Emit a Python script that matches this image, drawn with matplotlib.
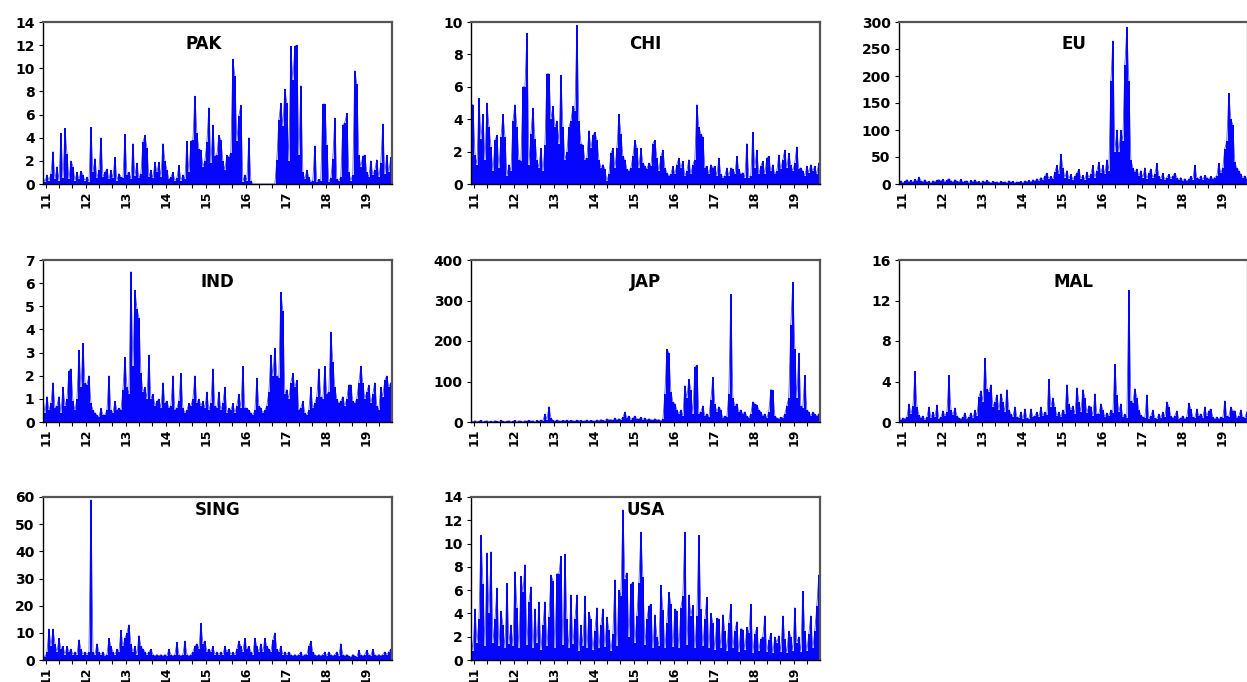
import numpy as np
import matplotlib
matplotlib.use("Agg")
import matplotlib.pyplot as plt
from matplotlib.ticker import MultipleLocator

# spike heights, one value every ~18 days from Dec 2010
pak = [0.6, 0.2, 0.8, 0.3, 0.9, 2.8, 0.4, 1.5, 0.3, 4.4, 0.5, 4.8, 2.6, 0.4, 2.0, 1.5, 0.3, 1.0, 0.4, 1.1,
       0.8, 0.3, 0.6, 0.2, 4.9, 1.0, 2.2, 0.5, 1.2, 4.0, 0.6, 1.0, 1.3, 0.4, 1.2, 0.5, 2.3, 0.3, 0.9, 0.6,
       0.5, 4.3, 0.8, 1.0, 0.4, 3.5, 0.7, 1.8, 0.5, 0.9, 3.6, 4.2, 3.1, 0.6, 1.2, 0.5, 1.9, 1.0, 1.9, 0.6,
       3.5, 2.0, 1.2, 0.4, 0.6, 1.0, 0.3, 0.5, 1.6, 0.3, 0.8, 0.4, 3.7, 1.0, 3.7, 3.8, 7.6, 4.4, 3.0, 2.9,
       1.5, 2.0, 3.6, 6.6, 1.8, 5.1, 2.4, 2.5, 4.2, 3.8, 2.0, 1.2, 2.5, 2.3, 2.7, 10.8, 9.3, 3.7, 5.9, 6.8,
       0.2, 0.8, 0.3, 4.0, 0.3, 0, 0, 0, 0, 0, 0, 0, 0, 0, 0, 0, 0, 2.1, 5.5, 7.0,
       5.0, 8.2, 7.0, 2.0, 11.9, 9.0, 11.9, 12.0, 2.5, 8.5, 1.0, 0.4, 1.2, 0.6, 0.2, 0.3, 3.3, 0.2, 0.4, 0.3,
       6.9, 6.9, 3.4, 0.2, 0.5, 2.2, 5.7, 0.4, 0.3, 0.6, 5.1, 5.3, 6.1, 1.0, 0.3, 0.8, 9.8, 8.6, 2.5, 1.5,
       2.4, 2.5, 1.0, 0.6, 2.0, 0.8, 1.2, 2.1, 0.6, 1.8, 5.2, 0.9, 2.5, 1.0, 2.3]

chi = [4.9, 4.9, 1.8, 1.2, 5.3, 2.8, 4.3, 1.5, 5.0, 3.5, 2.3, 0.8, 2.7, 3.0, 1.0, 2.9, 4.3, 2.9, 0.5, 1.2,
       0.8, 3.9, 4.9, 3.5, 1.5, 1.4, 6.0, 6.0, 9.3, 1.2, 3.1, 4.7, 2.8, 1.5, 1.0, 2.2, 0.8, 2.4, 6.8, 6.8,
       4.0, 4.8, 3.5, 3.9, 2.5, 6.7, 3.5, 1.5, 2.0, 3.5, 3.9, 4.8, 4.5, 9.8, 3.9, 2.5, 2.4, 1.5, 1.6, 3.3,
       2.2, 3.0, 3.2, 2.7, 1.5, 1.0, 1.2, 0.9, 0.2, 0.6, 1.9, 2.2, 1.0, 2.2, 4.3, 3.1, 1.7, 1.5, 0.9, 0.8,
       1.0, 1.7, 2.7, 2.2, 1.0, 2.2, 1.3, 1.1, 0.9, 1.3, 1.1, 2.5, 2.7, 1.6, 0.8, 1.7, 2.1, 1.0, 0.7, 0.5,
       0.6, 1.1, 0.6, 1.2, 1.6, 1.0, 1.4, 0.5, 0.8, 1.5, 0.6, 1.2, 1.5, 4.9, 3.5, 3.1, 2.9, 1.0, 1.1, 0.6,
       1.2, 1.0, 1.1, 0.5, 1.6, 0.6, 0.4, 0.5, 1.0, 0.5, 1.0, 0.9, 0.6, 1.7, 0.9, 0.6, 0.7, 0.4, 2.5, 0.4,
       0.5, 3.2, 1.0, 2.1, 0.6, 1.1, 1.4, 0.6, 1.6, 1.7, 0.8, 1.2, 0.6, 0.8, 1.8, 0.9, 1.5, 2.1, 1.0, 1.9,
       1.2, 0.8, 1.3, 2.3, 0.9, 1.0, 0.8, 0.5, 1.1, 0.7, 1.2, 0.8, 1.1, 0.6, 1.3]

eu = [3, 6, 2, 5, 8, 4, 7, 3, 9, 5, 13, 6, 4, 8, 3, 5, 2, 6, 4, 7,
      8, 5, 9, 4, 7, 10, 6, 3, 8, 5, 4, 9, 3, 5, 6, 2, 7, 4, 8, 3,
      5, 2, 6, 3, 7, 4, 2, 5, 3, 4, 2, 5, 3, 4, 2, 6, 3, 5, 2, 4,
      3, 5, 2, 6, 4, 7, 3, 8, 5, 10, 6, 12, 8, 15, 20, 10, 14, 9, 22, 35,
      18, 55, 30, 12, 25, 10, 18, 8, 15, 20, 27, 10, 16, 8, 22, 12, 18, 35, 12, 25,
      40, 20, 35, 18, 45, 25, 190, 265, 60, 100, 60, 100, 80, 220, 290, 190, 45, 30, 22, 28,
      15, 25, 12, 30, 10, 20, 28, 12, 18, 38, 15, 10, 20, 8, 12, 18, 10, 15, 20, 12,
      8, 12, 6, 10, 5, 9, 14, 8, 35, 12, 10, 15, 8, 16, 12, 9, 14, 10, 12, 15,
      38, 20, 30, 65, 80, 168, 120, 110, 40, 30, 25, 18, 12, 15, 10]

ind = [1.0, 0.4, 1.1, 0.5, 0.8, 1.7, 0.6, 0.7, 1.1, 0.4, 1.5, 0.7, 1.0, 2.2, 2.3, 0.9, 0.5, 1.0, 3.1, 1.5,
       3.4, 1.7, 1.6, 2.0, 0.8, 0.5, 0.4, 0.3, 0.2, 0.6, 0.3, 0.3, 0.5, 2.0, 0.5, 0.4, 0.9, 0.5, 0.6, 0.5,
       1.4, 2.8, 1.5, 1.2, 6.5, 2.4, 5.7, 4.9, 4.5, 2.1, 1.3, 1.5, 1.0, 2.9, 1.0, 1.2, 0.7, 0.9, 1.0, 0.6,
       1.7, 0.8, 0.9, 0.6, 0.7, 2.0, 0.5, 0.6, 0.9, 2.1, 0.6, 0.4, 0.5, 0.8, 0.7, 1.0, 2.0, 0.8, 1.0, 0.7,
       0.9, 0.6, 1.3, 0.5, 0.8, 2.3, 0.7, 0.6, 1.3, 0.5, 0.8, 1.5, 0.4, 0.6, 0.5, 0.8, 0.4, 0.7, 1.2, 0.6,
       2.4, 0.6, 0.6, 0.5, 0.4, 0.3, 0.5, 1.9, 0.7, 0.6, 0.4, 0.5, 0.7, 1.3, 2.9, 2.0, 3.2, 2.0, 1.9, 5.6,
       4.8, 1.2, 1.4, 1.0, 1.7, 2.1, 1.5, 1.8, 0.5, 0.6, 0.9, 0.4, 0.3, 0.5, 1.5, 0.6, 0.8, 1.1, 2.3, 1.1,
       1.0, 2.4, 1.2, 1.3, 3.9, 2.6, 1.5, 1.0, 0.8, 0.9, 1.1, 0.7, 1.0, 1.6, 1.6, 0.9, 0.8, 1.0, 1.7, 2.4,
       1.7, 1.0, 1.3, 1.6, 0.8, 1.2, 1.7, 0.7, 0.5, 1.5, 1.1, 1.8, 2.0, 1.5, 1.7]

jap = [2, 1, 3, 1, 2, 4, 1, 2, 3, 1, 2, 1, 3, 2, 1, 4, 2, 1, 2, 3,
       1, 2, 4, 1, 3, 2, 1, 3, 2, 4, 2, 3, 1, 4, 2, 5, 3, 20, 6, 38,
       10, 4, 2, 5, 3, 2, 4, 3, 5, 2, 4, 3, 2, 5, 3, 4, 2, 3, 5, 2,
       4, 3, 2, 5, 3, 6, 4, 3, 8, 5, 6, 4, 10, 5, 8, 6, 12, 25, 10, 15,
       6, 10, 15, 8, 7, 12, 6, 10, 5, 8, 6, 4, 8, 5, 6, 3, 7, 70, 180, 170,
       75, 50, 45, 30, 20, 30, 15, 90, 60, 105, 80, 20, 135, 140, 20, 25, 40, 15, 20, 12,
       55, 110, 45, 25, 38, 30, 10, 15, 12, 70, 315, 60, 40, 45, 25, 30, 20, 25, 15, 10,
       20, 50, 45, 42, 30, 25, 15, 20, 10, 25, 80, 78, 15, 10, 8, 12, 10, 20, 40, 60,
       240, 345, 180, 60, 170, 40, 35, 115, 30, 25, 15, 25, 20, 15, 20]

mal = [0.6, 0.2, 0.4, 0.3, 0.5, 1.8, 0.8, 1.6, 5.0, 1.5, 0.7, 0.4, 0.6, 0.2, 0.5, 1.5, 0.4, 1.0, 0.5, 1.7,
       0.3, 0.5, 1.1, 0.6, 1.0, 4.6, 1.2, 0.7, 1.4, 0.6, 0.4, 0.3, 0.5, 0.9, 0.3, 0.5, 0.9, 0.4, 1.2, 0.6,
       2.5, 3.1, 2.0, 6.3, 3.3, 3.0, 3.7, 1.5, 2.0, 2.7, 1.2, 2.8, 2.0, 1.0, 3.2, 1.2, 0.8, 0.5, 1.5, 0.5,
       0.4, 1.0, 0.3, 1.3, 0.4, 0.3, 1.3, 0.5, 0.6, 1.0, 0.5, 1.5, 0.6, 1.0, 0.7, 4.2, 1.5, 2.4, 1.5, 0.6,
       1.0, 0.5, 1.2, 0.8, 3.7, 1.8, 1.2, 1.6, 0.8, 3.4, 2.0, 1.0, 3.2, 2.4, 0.9, 1.6, 1.5, 0.6, 2.8, 0.8,
       0.8, 1.8, 1.2, 0.5, 0.9, 0.6, 1.2, 0.9, 5.7, 2.7, 1.0, 1.8, 0.5, 0.8, 0.4, 13.0, 2.1, 1.9, 3.3, 2.4,
       1.2, 0.7, 0.5, 0.4, 2.7, 0.3, 0.6, 1.2, 0.4, 0.3, 0.8, 0.4, 1.0, 0.5, 2.0, 1.5, 0.6, 0.4, 0.6, 1.1,
       0.3, 0.4, 0.6, 0.3, 0.5, 1.9, 1.3, 0.5, 0.4, 1.3, 0.6, 0.8, 0.4, 1.5, 0.6, 1.1, 1.3, 0.5, 0.3, 0.5,
       0.3, 0.5, 0.4, 2.1, 0.6, 0.5, 1.5, 1.1, 1.1, 0.4, 0.6, 1.2, 0.5, 0.4, 1.0]

sing = [2, 1, 3, 11.5, 5, 11.5, 6, 3, 8, 4, 5, 2, 5, 3, 4, 2, 3, 2, 7.5, 4,
        2, 3, 2, 3, 59, 3, 2, 6, 3, 2, 3, 1.5, 2, 8, 5, 3, 2, 4, 3, 11,
        5, 8, 10, 13, 6, 3, 5, 2, 9, 5, 4, 3, 2, 3, 4, 2, 1.5, 2, 1.5, 2,
        1.5, 2, 1.5, 4, 2, 1.5, 2, 6.5, 2, 1.5, 2, 7, 2, 1.5, 2, 3, 5, 6, 4, 13.5,
        6, 7, 3, 4, 3, 5, 2, 3, 2, 3, 2, 5, 3, 4, 2, 3, 2, 4, 7, 5,
        3, 8, 4, 5, 3, 2, 8, 5, 3, 6, 3, 8, 5, 4, 3, 7.5, 10, 4, 3, 5,
        2, 3, 2, 3, 2, 1.5, 2, 1.5, 2, 3, 1.5, 2, 2, 5, 7, 3, 2, 1.5, 2, 1.5,
        2, 3, 1.5, 3, 2, 1.5, 2, 3, 1.5, 6, 2, 1.5, 2, 1.5, 1, 2, 1.5, 1, 3.5, 2,
        1.5, 2, 3.5, 2, 1.5, 4, 2, 1.5, 2, 1.5, 2, 3, 2, 3, 4]

usa = [2.2, 0.8, 4.4, 1.5, 3.5, 10.7, 6.5, 1.2, 9.2, 4.0, 9.3, 1.5, 3.5, 6.2, 1.2, 4.2, 3.0, 1.0, 6.6, 1.4,
       3.0, 1.2, 7.6, 4.5, 1.0, 7.2, 5.8, 8.2, 1.3, 5.0, 6.3, 1.0, 4.4, 1.5, 5.0, 0.9, 3.0, 5.0, 1.2, 3.7,
       7.3, 6.8, 1.0, 7.4, 7.4, 8.9, 1.3, 9.1, 3.5, 1.0, 5.6, 1.4, 3.5, 5.6, 0.8, 3.0, 1.2, 5.5, 1.0, 4.1,
       3.5, 0.9, 2.5, 4.5, 1.0, 3.0, 4.4, 1.1, 3.7, 2.6, 0.8, 2.2, 6.9, 1.2, 6.0, 5.5, 12.9, 7.0, 7.5, 2.0,
       6.5, 6.7, 1.5, 3.8, 6.6, 11.0, 7.1, 1.3, 3.5, 4.6, 4.8, 1.0, 3.9, 2.0, 1.2, 6.4, 4.3, 1.0, 3.2, 5.8,
       4.8, 1.1, 4.4, 4.2, 1.0, 4.5, 5.5, 11.0, 1.3, 5.6, 3.8, 4.7, 1.0, 3.8, 10.7, 4.4, 1.2, 3.5, 5.4, 1.0,
       4.0, 3.2, 0.9, 3.6, 3.5, 1.0, 3.9, 2.5, 0.8, 3.2, 4.8, 1.0, 2.5, 3.3, 0.7, 2.7, 2.6, 0.9, 2.8, 2.3,
       4.8, 0.6, 2.2, 2.8, 0.8, 1.8, 2.0, 3.8, 0.7, 1.7, 2.3, 0.6, 2.0, 1.5, 2.1, 0.7, 3.8, 1.8, 0.6, 2.5,
       2.0, 0.8, 4.5, 1.5, 2.0, 0.7, 5.9, 2.5, 0.8, 2.2, 3.8, 1.0, 2.5, 4.6, 7.3]

names = ["PAK", "CHI", "EU", "IND", "JAP", "MAL", "SING", "USA"]
series = [pak, chi, eu, ind, jap, mal, sing, usa]
ymax = [14, 10, 300, 7, 400, 16, 60, 14]
ystep = [2, 2, 50, 1, 100, 4, 10, 2]
year_labels = ["11", "12", "13", "14", "15", "16", "17", "18", "19"]

W, H = 1247, 682
fig = plt.figure(figsize=(W / 100, H / 100), dpi=100)

lefts = [43, 471, 899]
rows = [(22, 184), (260, 422), (497, 660)]

for k, (name, vals) in enumerate(zip(names, series)):
    r, c = divmod(k, 3)
    top, bot = rows[r]
    ax = fig.add_axes([lefts[c] / W, 1 - bot / H, 349 / W, (bot - top) / H])
    y = np.array(vals, dtype=float)
    x = 2010.93 + 0.05 * np.arange(len(y))
    # thin vertical strokes for each observation, plus the joining line
    ax.vlines(x, 0, y, color="#0000ff", lw=1.4)
    ax.plot(x, y, color="#0000ff", lw=0.6, alpha=0.7)
    ax.set_xlim(2010.93, 2019.66)
    ax.set_ylim(0, ymax[k])
    ax.yaxis.set_major_locator(MultipleLocator(ystep[k]))
    ax.set_xticks(np.arange(2011, 2020))
    ax.set_xticklabels(year_labels, rotation=90, fontweight="bold", fontsize=9)
    ax.xaxis.set_minor_locator(MultipleLocator(1 / 3))
    for lab in ax.get_yticklabels():
        lab.set_fontweight("bold")
        lab.set_fontsize(10)
    ax.tick_params(axis="both", which="both", direction="out", length=3, width=0.8, pad=2)
    ax.tick_params(axis="y", pad=3)
    for s in ["left", "bottom"]:
        ax.spines[s].set_color("black")
        ax.spines[s].set_linewidth(1.0)
    for s in ["top", "right"]:
        ax.spines[s].set_color("#555555")
        ax.spines[s].set_linewidth(1.6)
    tx, ty = 0.5, 0.865
    if name == "PAK":
        tx = 0.46
    if name in ("SING", "USA"):
        ty = 0.92
    ax.text(tx, ty, name, transform=ax.transAxes, ha="center", va="center",
            fontsize=12, fontweight="bold")

fig.savefig("out.png", dpi=100)
